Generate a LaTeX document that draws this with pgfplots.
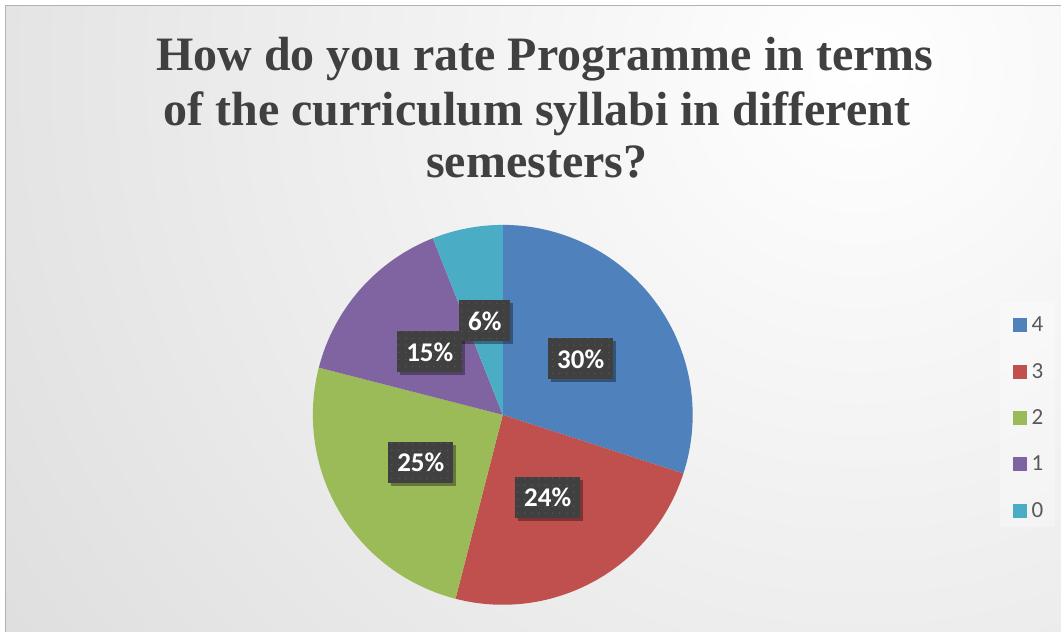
\documentclass[border=0pt]{standalone}
\usepackage{fontspec}
\usepackage{pgfplots}
\usepackage{pgfplotstable}
\pgfplotsset{compat=1.18}
\usetikzlibrary{shadows,patterns.meta}
\setmainfont{Liberation Serif}
\newfontfamily\carlito{Carlito}

\definecolor{c4}{HTML}{4F81BD}
\definecolor{c3}{HTML}{C0504D}
\definecolor{c2}{HTML}{9BBB59}
\definecolor{c1}{HTML}{8064A2}
\definecolor{c0}{HTML}{4BACC6}
\definecolor{titlegray}{HTML}{404040}
\definecolor{textgray}{HTML}{595959}
\definecolor{lblgray}{HTML}{404040}
\definecolor{bgouter}{HTML}{C0C0C0}

% rating, share in %, data label position (px)
\pgfplotstableread{
rating share lx ly
4 30 581 359
3 24 548 498
2 25 421 463
1 15 430 352
0 6  485 321
}\piedata

\def\grab#1#2#3{\pgfplotstablegetelem{#1}{#2}\of\piedata
  \expandafter\xdef\csname #3\endcsname{\pgfplotsretval}}
\grab{0}{share}{sA}\grab{1}{share}{sB}\grab{2}{share}{sC}\grab{3}{share}{sD}\grab{4}{share}{sE}
\grab{0}{lx}{xA}\grab{1}{lx}{xB}\grab{2}{lx}{xC}\grab{3}{lx}{xD}\grab{4}{lx}{xE}
\grab{0}{ly}{yA}\grab{1}{ly}{yB}\grab{2}{ly}{yC}\grab{3}{ly}{yD}\grab{4}{ly}{yE}
\pgfmathsetmacro\cA{0}
\pgfmathsetmacro\cB{\sA}
\pgfmathsetmacro\cC{\sA+\sB}
\pgfmathsetmacro\cD{\sA+\sB+\sC}
\pgfmathsetmacro\cE{\sA+\sB+\sC+\sD}

\tikzset{lbl/.style={fill=lblgray, text=white, font=\carlito\bfseries\fontsize{27}{27}\selectfont,
    minimum height=41pt, inner xsep=9pt, inner ysep=0pt,
    drop shadow={shadow xshift=3pt, shadow yshift=-3pt, opacity=0.35, fill=black},
    postaction={pattern={Dots[distance=7pt, radius=0.8pt]}, pattern color=white!12!lblgray}}}

% slice: start (%), size (%), colour
\newcommand\slice[3]{\fill[#3] (axis cs:503,415) -- ++({90-3.6*(#1)}:190pt)
  arc[start angle={90-3.6*(#1)}, delta angle={-3.6*(#2)}, radius=190pt] -- cycle;}
\newcommand\plabel[3]{\node[lbl] at (axis cs:#1,#2) {#3\%};}

\begin{document}
\begin{tikzpicture}
\begin{axis}[
  hide axis,
  x=1pt, y=1pt,
  xmin=0, xmax=1061, ymin=0, ymax=632,
  y dir=reverse,
  clip=false,
  legend image code/.code={\fill[#1, draw=none] (0pt,-7pt) rectangle (14pt,7pt);},
  legend style={at={(axis cs:1013,317)}, anchor=north west, draw=none, fill=none,
    inner sep=0pt, row sep=30pt, column sep=5pt,
    nodes={inner sep=0pt, font=\carlito\fontsize{23}{23}\selectfont, text=textgray}},
]
% background
\fill[white] (axis cs:0,0) rectangle (axis cs:1061,632);
\begin{scope}
  \clip (axis cs:6,5) rectangle (axis cs:1061,632);
  \shade[inner color=white, outer color=bgouter] (axis cs:860,70) circle (2000pt);
\end{scope}
\draw[gray!60, line width=1pt] (axis cs:1061,5) -- (axis cs:6,5) -- (axis cs:6,632);

% title
\node[anchor=base, font=\bfseries\fontsize{48}{54}\selectfont, text=titlegray]
  at (axis cs:545,71) {How do you rate Programme in terms};
\node[anchor=base, font=\bfseries\fontsize{48}{54}\selectfont, text=titlegray]
  at (axis cs:537,126) {of the curriculum syllabi in different};
\node[anchor=base, font=\bfseries\fontsize{48}{54}\selectfont, text=titlegray]
  at (axis cs:537,178) {semesters?};

% pie
\slice{\cA}{\sA}{c4}
\slice{\cB}{\sB}{c3}
\slice{\cC}{\sC}{c2}
\slice{\cD}{\sD}{c1}
\slice{\cE}{\sE}{c0}

% data labels
\plabel{\xA}{\yA}{\sA}
\plabel{\xB}{\yB}{\sB}
\plabel{\xC}{\yC}{\sC}
\plabel{\xD}{\yD}{\sD}
\plabel{\xE}{\yE}{\sE}

% legend
\fill[white, opacity=0.3] (axis cs:1000,302) rectangle (axis cs:1055,527);
\addlegendimage{fill=c4}
\addlegendimage{fill=c3}
\addlegendimage{fill=c2}
\addlegendimage{fill=c1}
\addlegendimage{fill=c0}
\legend{4,3,2,1,0}
\end{axis}
\end{tikzpicture}
\end{document}
